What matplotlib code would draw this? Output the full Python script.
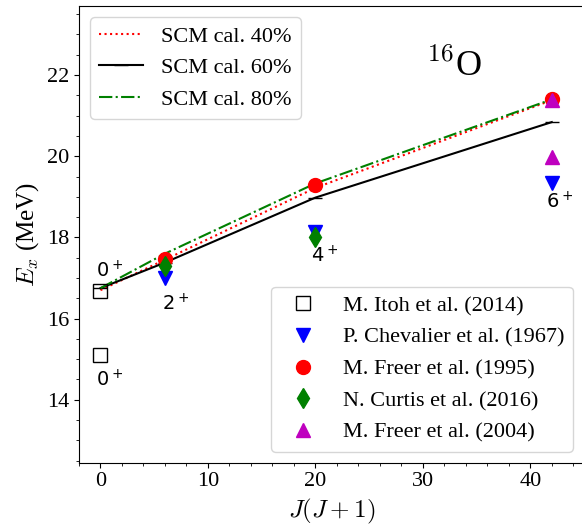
import numpy as np
import matplotlib
matplotlib.use('Agg')
import matplotlib.pyplot as plt
from matplotlib.ticker import AutoMinorLocator, MultipleLocator

plt.rcParams['font.family'] = 'serif'
plt.rcParams['font.serif'] = ['Liberation Serif', 'DejaVu Serif']
plt.rcParams['mathtext.fontset'] = 'cm'

# расчёт SCM: J(J+1) и энергии возбуждения (МэВ)
jj = [0, 6, 20, 42]
scm40 = [16.7, 17.45, 19.22, 21.38]
scm60 = [16.75, 17.38, 18.98, 20.84]
scm80 = [16.75, 17.6, 19.33, 21.4]

# экспериментальные данные
itoh_x = [0, 0]
itoh_y = [16.67, 15.1]
chev_x = [6, 20, 42]
chev_y = [16.99, 18.13, 19.34]
freer95_x = [6, 20, 42]
freer95_y = [17.48, 19.28, 21.4]
curtis_x = [6, 20]
curtis_y = [17.3, 18.0]
freer04_x = [42, 42]
freer04_y = [21.38, 19.98]

# подписи состояний
spin_labels = ['0$^+$', '0$^+$', '2$^+$', '4$^+$', '6$^+$']
spin_x = [-0.4, -0.4, 5.7, 19.6, 41.5]
spin_y = [17.02, 14.32, 16.2, 17.38, 18.71]

fig = plt.figure(figsize=(5.82, 5.25), dpi=100)
ax = fig.add_axes([79/582, (525-462.7)/525, (584-79)/582, (462.7-6)/525])

l1, = ax.plot(jj, scm40, ':', color='red', lw=1.5, label='SCM cal. 40%')
l2, = ax.plot(jj, scm60, '-', color='black', lw=1.5, marker='_', ms=10,
              label='SCM cal. 60%')
l3, = ax.plot(jj, scm80, '-.', color='green', lw=1.5, label='SCM cal. 80%')

ms = 10
p1, = ax.plot(itoh_x, itoh_y, 's', mfc='none', mec='black', ms=ms,
              label='M. Itoh et al. (2014)')
p2, = ax.plot(chev_x, chev_y, 'v', color='blue', ms=ms,
              label='P. Chevalier et al. (1967)')
p3, = ax.plot(freer95_x, freer95_y, 'o', color='red', ms=ms,
              label='M. Freer et al. (1995)')
p4, = ax.plot(curtis_x, curtis_y, 'd', color='green', ms=ms,
              label='N. Curtis et al. (2016)')
p5, = ax.plot(freer04_x, freer04_y, '^', color='m', ms=ms,
              label='M. Freer et al. (2004)')

for s, x, y in zip(spin_labels, spin_x, spin_y):
    ax.text(x, y, s, fontsize=14, family='DejaVu Sans',
            math_fontfamily='dejavusans', ha='left', va='baseline')

ax.text(30.3, 21.98, '$^{16}$O', fontsize=26, ha='left', va='baseline')

leg1 = ax.legend(handles=[l1, l2, l3], loc='upper left', fontsize=16)
ax.add_artist(leg1)
ax.legend(handles=[p1, p2, p3, p4, p5], loc='lower right', fontsize=16)

ax.set_xlim(-2, 45)
ax.set_ylim(12.45, 23.7)
ax.xaxis.set_major_locator(MultipleLocator(10))
ax.xaxis.set_minor_locator(AutoMinorLocator(5))
ax.yaxis.set_major_locator(MultipleLocator(2))
ax.yaxis.set_minor_locator(AutoMinorLocator(4))
ax.tick_params(labelsize=16)
ax.set_xlabel('$J(J+1)$', fontsize=18, labelpad=4)
ax.set_ylabel('$E_x$ (MeV)', fontsize=18, labelpad=4)

fig.savefig('out.png', dpi=100)
